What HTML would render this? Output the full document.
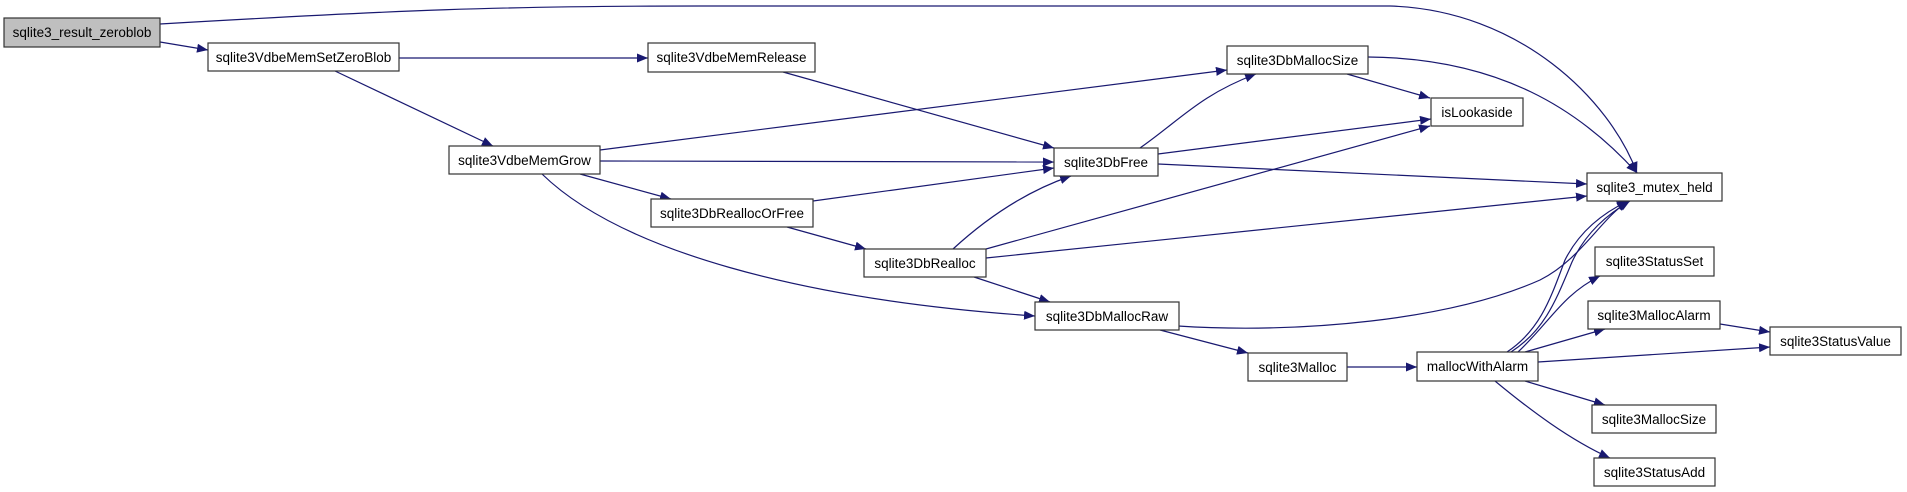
<!DOCTYPE html>
<html><head><meta charset="utf-8"><style>
html,body{margin:0;padding:0;background:#fff;}
svg{display:block;}
text{font-family:"Liberation Sans",sans-serif;font-size:13.5px;fill:#000;}
</style></head><body>
<svg width="1907" height="492" viewBox="0 0 1907 492" xmlns="http://www.w3.org/2000/svg">
<defs>
<marker id="a" markerWidth="12" markerHeight="10" refX="11" refY="4.5" orient="auto" markerUnits="userSpaceOnUse">
<path d="M0,0 L11,4.5 L0,9 Z" fill="#191970"/>
</marker>
</defs>
<g fill="none" stroke="#191970" stroke-width="1.2" marker-end="url(#a)">
<path d="M160,24 C400,10 500,6 700,6 L1390,6 C1520,10 1610,100 1637,173"/>
<path d="M160,42 L208,50"/>
<path d="M399,58 L648,58"/>
<path d="M335,71 L493,146"/>
<path d="M783,72 L1054,148"/>
<path d="M600,150 L1227,70"/>
<path d="M600,161 L1054,162"/>
<path d="M580,174 L671,199"/>
<path d="M542,174 C620,250 800,300 1035,316"/>
<path d="M813,201 L1054,168"/>
<path d="M787,227 L866,249"/>
<path d="M953,249 C990,215 1030,190 1071,176"/>
<path d="M986,249 L1430,126"/>
<path d="M986,258 L1587,196"/>
<path d="M974,277 L1050,302"/>
<path d="M1140,148 C1180,120 1200,95 1256,74"/>
<path d="M1158,154 L1431,119"/>
<path d="M1158,164 L1587,184"/>
<path d="M1347,74 L1430,98"/>
<path d="M1368,57 C1500,58 1580,110 1637,173"/>
<path d="M1178,326 C1300,334 1450,320 1540,280 C1580,260 1600,220 1628,201"/>
<path d="M1160,330 L1248,353"/>
<path d="M1347,367 L1417,367"/>
<path d="M1507,352 C1540,330 1550,300 1565,260 C1580,230 1605,212 1628,201"/>
<path d="M1511,352 C1545,330 1556,300 1572,262 C1586,232 1608,214 1630,201"/>
<path d="M1518,352 C1550,322 1562,295 1600,276"/>
<path d="M1525,352 L1605,329"/>
<path d="M1538,362 L1770,347"/>
<path d="M1720,324 L1770,332"/>
<path d="M1525,381 L1605,405"/>
<path d="M1495,381 C1530,410 1570,440 1610,458"/>
</g>
<g stroke="#333" stroke-width="1.2">
<rect x="4" y="18" width="156" height="29" fill="#bfbfbf"/>
<rect x="208" y="43" width="191" height="28" fill="#fff"/>
<rect x="449" y="146" width="151" height="28" fill="#fff"/>
<rect x="648" y="43" width="167" height="29" fill="#fff"/>
<rect x="1054" y="148" width="104" height="28" fill="#fff"/>
<rect x="651" y="199" width="162" height="28" fill="#fff"/>
<rect x="1227" y="46" width="141" height="28" fill="#fff"/>
<rect x="1431" y="98" width="92" height="28" fill="#fff"/>
<rect x="1587" y="173" width="135" height="28" fill="#fff"/>
<rect x="864" y="249" width="122" height="28" fill="#fff"/>
<rect x="1035" y="302" width="144" height="28" fill="#fff"/>
<rect x="1595" y="247" width="119" height="29" fill="#fff"/>
<rect x="1588" y="301" width="132" height="28" fill="#fff"/>
<rect x="1770" y="327" width="131" height="28" fill="#fff"/>
<rect x="1248" y="353" width="99" height="28" fill="#fff"/>
<rect x="1417" y="352" width="121" height="29" fill="#fff"/>
<rect x="1592" y="405" width="124" height="28" fill="#fff"/>
<rect x="1594" y="458" width="121" height="28" fill="#fff"/>
</g>
<g text-anchor="middle">
<text x="82" y="37">sqlite3_result_zeroblob</text>
<text x="303.5" y="62">sqlite3VdbeMemSetZeroBlob</text>
<text x="524.5" y="165">sqlite3VdbeMemGrow</text>
<text x="731.5" y="62">sqlite3VdbeMemRelease</text>
<text x="1106" y="167">sqlite3DbFree</text>
<text x="732" y="218">sqlite3DbReallocOrFree</text>
<text x="1297.5" y="65">sqlite3DbMallocSize</text>
<text x="1477" y="117">isLookaside</text>
<text x="1654.5" y="192">sqlite3_mutex_held</text>
<text x="925" y="268">sqlite3DbRealloc</text>
<text x="1107" y="321">sqlite3DbMallocRaw</text>
<text x="1654.5" y="266">sqlite3StatusSet</text>
<text x="1654" y="320">sqlite3MallocAlarm</text>
<text x="1835.5" y="346">sqlite3StatusValue</text>
<text x="1297.5" y="372">sqlite3Malloc</text>
<text x="1477.5" y="371">mallocWithAlarm</text>
<text x="1654" y="424">sqlite3MallocSize</text>
<text x="1654.5" y="477">sqlite3StatusAdd</text>
</g>
</svg>
</body></html>
